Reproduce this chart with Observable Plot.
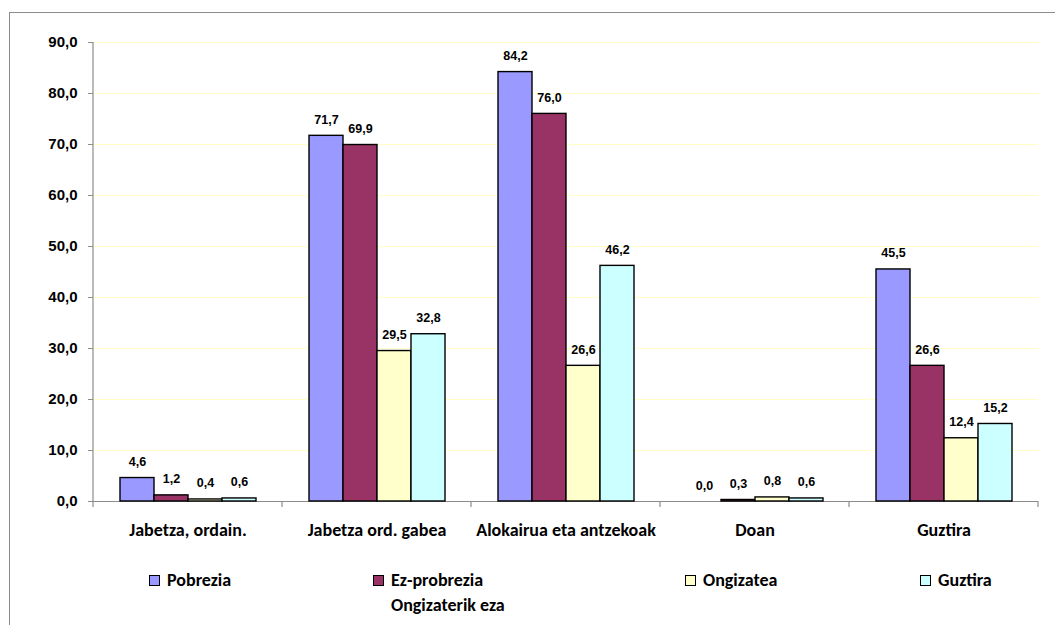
<!DOCTYPE html>
<html>
<head>
<meta charset="utf-8">
<script src="https://cdn.jsdelivr.net/npm/d3@7"></script>
<script src="https://cdn.jsdelivr.net/npm/@observablehq/plot@0.6"></script>
<style>
  html, body { margin: 0; padding: 0; background: #fff; overflow: hidden; width: 1055px; height: 625px; }
  #frame { position: absolute; left: 9px; top: 12px; width: 1200px; height: 800px; border: 1px solid #8c8c8c; box-sizing: border-box; }
  #chart { position: absolute; left: 0; top: 0; }
  .leg { position: absolute; font-family: Carlito, Lato, sans-serif; font-weight: bold; font-size: 18px; color: #000; line-height: 20px; white-space: nowrap; }
  .sw { position: absolute; width: 9px; height: 9px; border: 1px solid #000; }
</style>
</head>
<body>
<div id="frame"></div>
<div id="chart"></div>
<div id="legend"></div>
<script>
const categories = ["Jabetza, ordain.", "Jabetza ord. gabea", "Alokairua eta antzekoak", "Doan", "Guztira"];
const series = ["Pobrezia", "Ez-probrezia", "Ongizatea", "Guztira"];
const legendLabels = [["Pobrezia"], ["Ez-probrezia", "Ongizaterik eza"], ["Ongizatea"], ["Guztira"]];
const colors = ["#9999ff", "#993366", "#ffffcc", "#ccffff"];
const pobrezia    = [4.6, 71.7, 84.2, 0.0, 45.5];
const ezProbrezia = [1.2, 69.9, 76.0, 0.3, 26.6];
const ongizatea   = [0.4, 29.5, 26.6, 0.8, 12.4];
const guztira     = [0.6, 32.8, 46.2, 0.6, 15.2];
const yTicks = [0, 10, 20, 30, 40, 50, 60, 70, 80, 90];

const seriesValues = [pobrezia, ezProbrezia, ongizatea, guztira];
const data = [];
categories.forEach((c, i) => {
  series.forEach((s, j) => data.push({cat: c, series: s, value: seriesValues[j][i]}));
});
const fmt = d => d.toFixed(1).replace(".", ",");

const W = 1055, H = 560;
const plot = Plot.plot({
  width: W,
  height: H,
  marginTop: 42,
  marginBottom: H - 501,
  marginLeft: 91,
  marginRight: 15,
  style: {background: "transparent", color: "#000", overflow: "visible"},
  fx: {domain: categories, padding: 0},
  x: {domain: series, paddingInner: 0, paddingOuter: 0.75, axis: null},
  y: {domain: [0, 90]},
  color: {domain: series, range: colors},
  marks: [
    Plot.gridY(yTicks, {stroke: "#ffffc8", strokeOpacity: 1, strokeWidth: 1}),
    Plot.ruleY([0], {stroke: "#8c8c8c", strokeWidth: 1.2}),
    Plot.axisY({ticks: yTicks, tickFormat: fmt, tickSize: 5, tickPadding: 11, stroke: "#8c8c8c",
      fontSize: 15, fontWeight: "bold", fontFamily: "Liberation Sans, Arial, sans-serif", label: null}),
    Plot.axisFx({anchor: "bottom", tickSize: 0, tickPadding: 22, label: null,
      fontSize: 18, fontWeight: "bold", fontFamily: "Carlito, Lato, sans-serif"}),
    Plot.barY(data, {fx: "cat", x: "series", y: "value", fill: "series", stroke: "#000", strokeWidth: 1.4}),
    Plot.text(data, {fx: "cat", x: "series", y: "value", text: d => fmt(d.value), dy: -16,
      fontSize: 12.5, fontWeight: "bold", fontFamily: "Liberation Sans, Arial, sans-serif", fill: "#000"})
  ]
});
document.getElementById("chart").appendChild(plot);

// axis decorations from the library's scales
const fxS = plot.scale("fx"), yS = plot.scale("y");
const svg = d3.select(plot);
const y0 = yS.apply(0), yTop = yS.apply(90);
const x0 = fxS.apply(categories[0]);
svg.append("line").attr("x1", x0).attr("x2", x0).attr("y1", yTop).attr("y2", y0)
  .attr("stroke", "#8c8c8c").attr("stroke-width", 1.2);
const bounds = categories.map(c => fxS.apply(c)).concat([fxS.apply(categories[categories.length - 1]) + fxS.bandwidth]);
bounds.forEach(b => {
  svg.append("line").attr("x1", b).attr("x2", b).attr("y1", y0).attr("y2", y0 + 6)
    .attr("stroke", "#8c8c8c").attr("stroke-width", 1.2);
});

// legend
const legend = document.getElementById("legend");
const legX = [149, 373, 685, 920];
legendLabels.forEach((lines, i) => {
  const sw = document.createElement("div");
  sw.className = "sw";
  sw.style.left = legX[i] + "px";
  sw.style.top = "575px";
  sw.style.background = colors[i];
  legend.appendChild(sw);
  lines.forEach((t, k) => {
    const el = document.createElement("div");
    el.className = "leg";
    el.textContent = t;
    el.style.left = (legX[i] + 18) + "px";
    el.style.top = (570 + k * 25) + "px";
    legend.appendChild(el);
  });
});
</script>
</body>
</html>
